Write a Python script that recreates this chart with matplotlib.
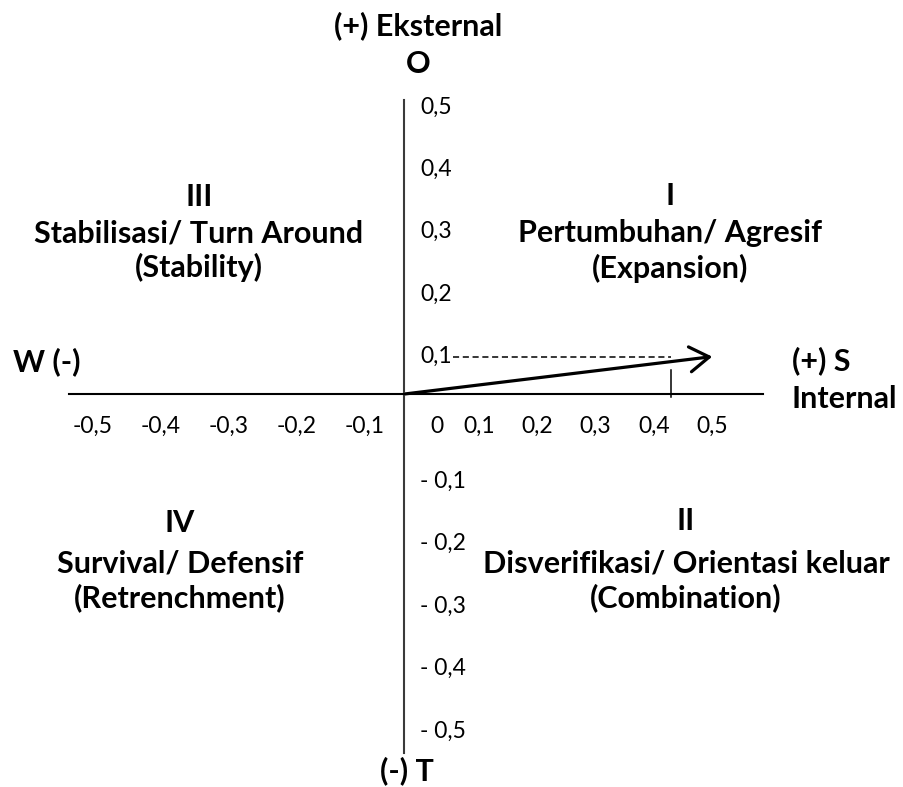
import numpy as np
import matplotlib
matplotlib.use('Agg')
import matplotlib.pyplot as plt
from matplotlib.patches import FancyArrowPatch

plt.rcParams['font.family'] = ['Lato', 'DejaVu Sans']

# nilai sumbu (label teks seperti di gambar asli)
x_neg_ticks = [-0.5, -0.4, -0.3, -0.2, -0.1]
x_neg_labels = ['-0,5', '-0,4', '-0,3', '-0,2', '-0,1']
x_pos_ticks = [0, 0.1, 0.2, 0.3, 0.4, 0.5]
x_pos_labels = ['0', '0,1', '0,2', '0,3', '0,4', '0,5']
y_pos_ticks = [0.5, 0.4, 0.3, 0.2, 0.1]
y_pos_labels = ['0,5', '0,4', '0,3', '0,2', '0,1']
y_neg_ticks = [-0.1, -0.2, -0.3, -0.4, -0.5]
y_neg_labels = ['- 0,1', '- 0,2', '- 0,3', '- 0,4', '- 0,5']

# posisi hasil analisis SWOT
point_x = 0.43
point_y = 0.1
arrow_end_x = 0.5
arrow_end_y = 0.1

quadrant_numerals = ['I', 'II', 'III', 'IV']
quadrant_names = ['Pertumbuhan/ Agresif', 'Disverifikasi/ Orientasi keluar',
                  'Stabilisasi/ Turn Around', 'Survival/ Defensif']
quadrant_strategies = ['(Expansion)', '(Combination)', '(Stability)', '(Retrenchment)']

W, H = 904, 787
K_NEG = 681 / 583  # sisi negatif sumbu x sedikit lebih lebar


def fwd(v):
    v = np.asarray(v, dtype=float)
    return np.where(v < 0, v * K_NEG, v)


def inv(u):
    u = np.asarray(u, dtype=float)
    return np.where(u < 0, u / K_NEG, u)


def px(x, y):
    # piksel gambar -> koordinat fraksi axes
    return x / W, 1 - y / H


fig = plt.figure(figsize=(W / 100, H / 100), dpi=100)
ax = fig.add_axes([0, 0, 1, 1])
ax.set_xscale('function', functions=(fwd, inv))
ax.set_xlim(-0.6178, 0.829)
ax.set_ylim(-0.5897, 0.6715)
ax.axis('off')

cross_x = -0.0245
cross_y = 0.040

# sumbu
ax.plot([cross_x, cross_x], [-0.535, 0.511], color='#3a3a3a', lw=1.5)
ax.plot([-0.516, 0.587], [cross_y, cross_y], color='black', lw=1.5)

# garis bantu
ax.plot([0.055, point_x], [point_y, point_y], color='black', lw=1.1, ls=(0, (4, 2.4)))
ax.plot([point_x, point_x], [cross_y - 0.005, 0.078], color='black', lw=1.1)

arrow = FancyArrowPatch((cross_x, cross_y), (arrow_end_x, arrow_end_y),
                        arrowstyle='->,head_length=0.7,head_width=0.45',
                        mutation_scale=20, lw=2.3, color='black',
                        shrinkA=0, shrinkB=0)
ax.add_patch(arrow)

tick_fs = 16.5
pt = 0.72  # piksel -> point
for v, lab in zip(x_neg_ticks, x_neg_labels):
    ax.annotate(lab, xy=(v, cross_y), xytext=(12 * pt, -32 * pt), textcoords='offset points',
                ha='center', va='center', fontsize=tick_fs)
for v, lab in zip(x_pos_ticks, x_pos_labels):
    dx = 16 if v == 0 else 0
    ax.annotate(lab, xy=(v, cross_y), xytext=(dx * pt, -32 * pt), textcoords='offset points',
                ha='center', va='center', fontsize=tick_fs)
for v, lab in zip(y_pos_ticks + y_neg_ticks, y_pos_labels + y_neg_labels):
    ax.annotate(lab, xy=(cross_x, v), xytext=(16 * pt, 0), textcoords='offset points',
                ha='left', va='center', fontsize=tick_fs)

# label kuadran
bold_fs = 22
quad_pos = [(670, 205, 242, 278), (686, 530, 572, 607),
            (199, 206, 242, 277), (180, 532, 572, 607)]
for (cx, y1, y2, y3), num, name, strat in zip(quad_pos, quadrant_numerals,
                                               quadrant_names, quadrant_strategies):
    for yy, s in zip((y1, y2, y3), (num, name, strat)):
        ax.text(*px(cx, yy), s, transform=ax.transAxes, ha='center', va='baseline',
                fontsize=bold_fs, fontweight='bold')

# label ujung sumbu
ax.text(*px(418, 35), '(+) Eksternal', transform=ax.transAxes, ha='center', va='baseline',
        fontsize=bold_fs, fontweight='bold')
ax.text(*px(418, 73), 'O', transform=ax.transAxes, ha='center', va='baseline',
        fontsize=bold_fs, fontweight='bold')
ax.text(*px(407, 780), '(-) T', transform=ax.transAxes, ha='center', va='baseline',
        fontsize=bold_fs, fontweight='bold')
ax.text(*px(13, 371), 'W (-)', transform=ax.transAxes, ha='left', va='baseline',
        fontsize=bold_fs, fontweight='bold')
ax.text(*px(792, 370), '(+) S', transform=ax.transAxes, ha='left', va='baseline',
        fontsize=bold_fs, fontweight='bold')
ax.text(*px(792, 408), 'Internal', transform=ax.transAxes, ha='left', va='baseline',
        fontsize=bold_fs, fontweight='bold')

fig.savefig('out.png', dpi=100)
